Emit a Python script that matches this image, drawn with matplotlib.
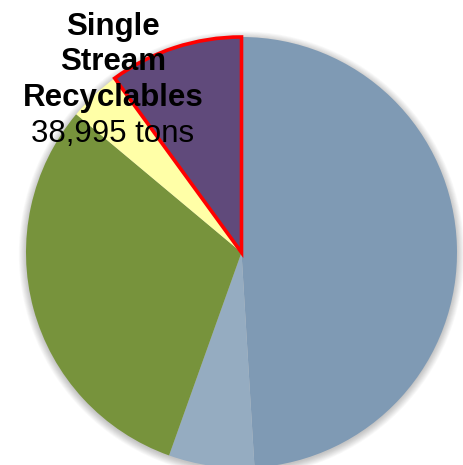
import matplotlib
matplotlib.use("Agg")
import matplotlib.pyplot as plt
from matplotlib.patches import Circle

# Annual tonnage by material stream
categories = ["Landfilled Waste", "Other Diversion", "Organics",
              "Other Recyclables", "Single Stream Recyclables"]
tons = [191000, 25000, 119300, 15200, 38995]
colors = ["#7F9AB4", "#95ACC1", "#77933C", "#FFFFA7", "#604A7B"]

W, H = 464, 465
fig = plt.figure(figsize=(W / 100, H / 100), dpi=100)
ax = fig.add_axes([0, 0, 1, 1])

cx, cy, r = 241.5, H - 252.5, 215.5

# soft drop shadow around the pie
for i in range(10):
    ax.add_patch(Circle((cx, cy - 1.5), r + i * 0.8, color="black",
                        alpha=0.022, lw=0, zorder=0))

wedges, _ = ax.pie(tons, colors=colors, startangle=90, counterclock=False,
                   center=(cx, cy), radius=r, frame=True,
                   wedgeprops=dict(linewidth=0))
ax.set_xlim(0, W)
ax.set_ylim(0, H)
ax.set_aspect("equal")
ax.axis("off")

# highlight the single stream slice
hl = wedges[-1]
hl.set_edgecolor("#FF0000")
hl.set_linewidth(2.6)
hl.set_joinstyle("miter")
hl.set_zorder(5)

label_x = 113
ax.text(label_x, H - 106, "Single\nStream\nRecyclables", ha="center", va="baseline",
        fontsize=22.5, fontweight="bold", family="Liberation Sans",
        linespacing=1.25, zorder=10)
ax.text(label_x, H - 142, f"{tons[-1]:,} tons", ha="center", va="baseline",
        fontsize=22.5, family="Liberation Sans", zorder=10)

fig.savefig("out.png", dpi=100)
